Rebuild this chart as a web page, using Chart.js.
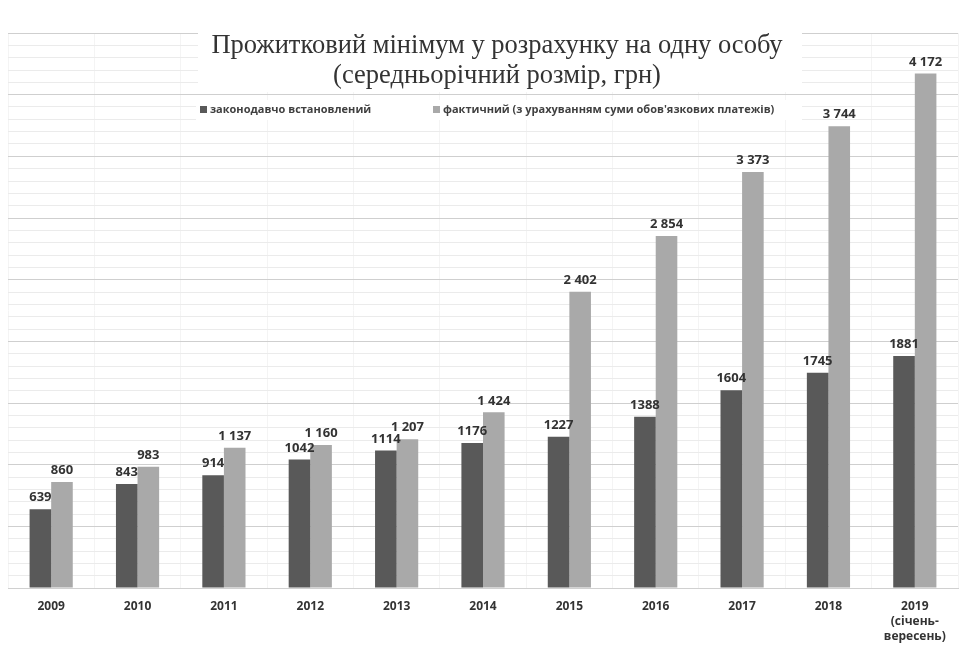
<!DOCTYPE html>
<html>
<head>
<meta charset="utf-8">
<script src="https://cdn.jsdelivr.net/npm/chart.js@4.4.1/dist/chart.umd.min.js"></script>
<style>
  html, body { margin: 0; padding: 0; background: #fff; }
  #wrap { width: 979px; height: 656px; position: relative; }
</style>
</head>
<body>
<div id="wrap"><canvas id="chart"></canvas></div>
<script>
const years = ['2009', '2010', '2011', '2012', '2013', '2014', '2015', '2016', '2017', '2018', ['2019', '(січень-', 'вересень)']];
const legal = [639, 843, 914, 1042, 1114, 1176, 1227, 1388, 1604, 1745, 1881];
const actual = [860, 983, 1137, 1160, 1207, 1424, 2402, 2854, 3373, 3744, 4172];
const titleLines = ['Прожитковий мінімум у розрахунку на одну особу', '(середньорічний розмір, грн)'];
const legendNames = ['законодавчо встановлений', 'фактичний (з урахуванням суми обов\'язкових платежів)'];

const darkColor = '#595959';
const lightColor = '#a9a9a9';

// space as thousands separator, only for the second series
function fmtSpace(v) {
  return String(v).replace(/\B(?=(\d{3})+(?!\d))/g, ' ');
}

const overlayPlugin = {
  id: 'overlay',
  afterDatasetsDraw(chart) {
    const ctx = chart.ctx;
    ctx.save();
    // value labels
    ctx.font = 'bold 13px "Open Sans", sans-serif';
    ctx.fillStyle = '#333';
    ctx.textAlign = 'center';
    ctx.textBaseline = 'bottom';
    chart.data.datasets.forEach((ds, i) => {
      chart.getDatasetMeta(i).data.forEach((bar, j) => {
        const v = ds.data[j];
        const txt = i === 0 ? String(v) : fmtSpace(v);
        ctx.fillText(txt, bar.x, bar.y - 5);
      });
    });

    // title on white box
    ctx.fillStyle = '#fff';
    ctx.fillRect(198, 30, 604, 62);
    ctx.fillStyle = '#333';
    ctx.font = '26.5px "Liberation Serif", "Times New Roman", serif';
    ctx.textBaseline = 'middle';
    ctx.fillText(titleLines[0], 497, 46);
    ctx.fillText(titleLines[1], 497, 76);

    // legend on white box
    ctx.fillStyle = '#fff';
    ctx.fillRect(196, 100, 606, 20);
    ctx.font = 'bold 11px "Open Sans", sans-serif';
    ctx.textAlign = 'left';
    ctx.fillStyle = darkColor;
    ctx.fillRect(200, 106, 7, 7);
    ctx.fillStyle = '#404040';
    ctx.fillText(legendNames[0], 210, 110);
    ctx.fillStyle = lightColor;
    ctx.fillRect(433, 106, 7, 7);
    ctx.fillStyle = '#404040';
    ctx.fillText(legendNames[1], 443, 110);
    ctx.restore();
  }
};

new Chart(document.getElementById('chart'), {
  type: 'bar',
  data: {
    labels: years,
    datasets: [
      { label: legendNames[0], data: legal, backgroundColor: darkColor },
      { label: legendNames[1], data: actual, backgroundColor: lightColor }
    ]
  },
  options: {
    responsive: true,
    maintainAspectRatio: false,
    animation: false,
    datasets: { bar: { categoryPercentage: 0.5, barPercentage: 1.0 } },
    layout: { padding: { top: 33, left: 8, right: 21, bottom: 0 } },
    plugins: {
      legend: { display: false },
      title: { display: false },
      tooltip: { enabled: false }
    },
    scales: {
      x: {
        grid: { display: true, color: '#f4f4f4', drawTicks: false, offset: true },
        border: { display: true, color: '#d0d0d0' },
        ticks: {
          color: '#333',
          padding: 11,
          font: { family: '"Open Sans", sans-serif', size: 12, weight: 'bold', lineHeight: 1.25 }
        },
        afterFit(scale) { scale.height = 68; }
      },
      y: {
        min: 0,
        max: 4500,
        ticks: { stepSize: 100, display: false },
        grid: {
          drawTicks: false,
          color: (c) => (c.tick.value % 500 === 0 ? '#cfcfcf' : '#ebebeb')
        },
        border: { display: false },
        afterFit(scale) { scale.width = 0; }
      }
    }
  },
  plugins: [overlayPlugin]
});
</script>
</body>
</html>
